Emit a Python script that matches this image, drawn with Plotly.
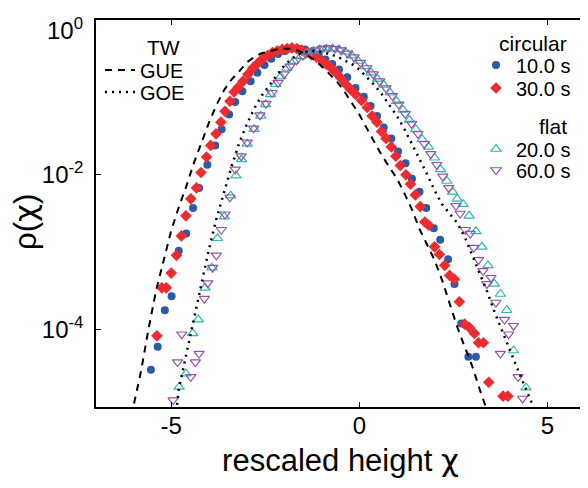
import numpy as np
import plotly.graph_objects as go

# ---------------- data (values are log10 of rho) ----------------
gue_x = [-6.05, -6.0, -5.8, -5.6, -5.4, -5.2, -5.0, -4.8, -4.6, -4.4, -4.2, -4.0, -3.8, -3.6, -3.4,
         -3.2, -3.0, -2.8, -2.6, -2.4, -2.2, -2.0, -1.8, -1.6, -1.4, -1.2, -1.0, -0.8, -0.6, -0.4,
         -0.2, 0.0, 0.2, 0.4, 0.6, 0.8, 1.0, 1.2, 1.4, 1.6, 1.8, 2.0, 2.2, 2.4, 2.6, 2.8, 3.0, 3.2,
         3.36, 3.42]
gue_log = [-5.12, -4.98, -4.53, -3.98, -3.49, -3.10, -2.72, -2.42, -2.15, -1.85, -1.58, -1.33, -1.10,
           -0.91, -0.77, -0.67, -0.55, -0.48, -0.43, -0.40, -0.38, -0.37, -0.37, -0.40, -0.45, -0.51,
           -0.60, -0.69, -0.79, -0.92, -1.07, -1.22, -1.40, -1.58, -1.75, -1.90, -2.05, -2.24, -2.45,
           -2.70, -2.90, -3.10, -3.36, -3.66, -3.96, -4.22, -4.47, -4.77, -4.98, -5.08]

goe_x = [-4.9, -4.85, -4.8, -4.6, -4.4, -4.2, -4.0, -3.8, -3.6, -3.4, -3.2, -3.0, -2.8, -2.6, -2.4,
         -2.2, -2.0, -1.8, -1.6, -1.4, -1.2, -1.0, -0.8, -0.6, -0.4, -0.2, 0.0, 0.2, 0.4, 0.6, 0.8,
         1.0, 1.2, 1.4, 1.6, 1.8, 2.0, 2.2, 2.4, 2.6, 2.8, 3.0, 3.2, 3.4, 3.6, 3.8, 4.0, 4.2, 4.4,
         4.6, 4.7]
goe_log = [-5.15, -5.0, -4.77, -4.32, -3.84, -3.40, -2.97, -2.57, -2.22, -1.90, -1.60, -1.36, -1.15,
           -0.98, -0.85, -0.72, -0.59, -0.50, -0.44, -0.41, -0.40, -0.41, -0.44, -0.47, -0.52, -0.57,
           -0.64, -0.74, -0.84, -0.96, -1.10, -1.24, -1.41, -1.60, -1.80, -1.99, -2.20, -2.38, -2.50,
           -2.62, -2.80, -3.03, -3.27, -3.51, -3.78, -4.01, -4.26, -4.50, -4.73, -4.97, -5.08]

circ10_x = [-5.54, -5.36, -5.17, -4.99, -4.80, -4.60, -4.42, -4.26, -4.04, -3.83, -3.66, -3.46, -3.30,
            -3.11, -2.89, -2.71, -2.52, -2.34, -2.16, -1.98, -1.80, -1.62, -1.44, -1.26, -1.08, -0.90,
            -0.72, -0.54, -0.32, -0.10, 0.12, 0.30, 0.47, 0.65, 0.85, 1.03, 1.23, 1.40, 1.60, 1.78,
            1.98, 2.15, 2.36, 2.53, 2.71, 2.90, 3.10]
circ10_log = [-4.52, -4.22, -3.75, -3.57, -2.98, -2.76, -2.43, -2.17, -1.87, -1.62, -1.41, -1.22, -1.06,
              -0.92, -0.79, -0.68, -0.58, -0.50, -0.44, -0.40, -0.37, -0.37, -0.38, -0.41, -0.45, -0.51,
              -0.57, -0.64, -0.74, -0.88, -0.99, -1.11, -1.24, -1.39, -1.53, -1.70, -1.85, -2.05, -2.22,
              -2.43, -2.69, -2.84, -3.09, -3.41, -3.92, -4.35, -4.35]

circ30_x = [-5.38, -5.25, -5.13, -5.00, -4.86, -4.73, -4.61, -4.48, -4.33, -4.21, -4.06, -3.95, -3.81,
            -3.68, -3.57, -3.44, -3.33, -3.22, -3.09, -2.96, -2.83, -2.70, -2.57, -2.44, -2.31, -2.18,
            -2.05, -1.92, -1.79, -1.66, -1.53, -1.40, -1.27, -1.14, -1.01, -0.88, -0.75, -0.62, -0.49,
            -0.36, -0.23, -0.10, 0.06, 0.21, 0.34, 0.47, 0.59, 0.71, 0.85, 0.97, 1.09, 1.24, 1.36,
            1.49, 1.62, 1.74, 1.84, 2.00, 2.13, 2.27, 2.40, 2.53, 2.66, 2.80, 2.92, 3.06, 3.17, 3.30,
            3.44, 3.82, 3.95]
circ30_log = [-4.08, -3.46, -3.46, -3.27, -3.04, -2.79, -2.53, -2.31, -2.17, -1.97, -1.77, -1.62, -1.47,
              -1.32, -1.18, -1.05, -0.93, -0.87, -0.79, -0.70, -0.62, -0.56, -0.50, -0.46, -0.42, -0.40,
              -0.38, -0.37, -0.36, -0.37, -0.39, -0.42, -0.45, -0.48, -0.52, -0.57, -0.62, -0.68, -0.75,
              -0.83, -0.90, -0.96, -1.04, -1.13, -1.24, -1.32, -1.44, -1.53, -1.64, -1.76, -1.88, -2.00,
              -2.12, -2.26, -2.41, -2.61, -2.65, -2.93, -3.03, -3.17, -3.30, -3.35, -3.64, -3.93, -3.97,
              -4.05, -4.17, -4.17, -4.68, -4.86, -4.86]

flat20_x = [-4.79, -4.61, -4.43, -4.28, -4.10, -3.92, -3.77, -3.59, -3.42, -3.28, -3.13, -2.98, -2.80,
            -2.62, -2.49, -2.36, -2.22, -2.09, -1.92, -1.74, -1.56, -1.39, -1.22, -1.05, -0.88, -0.71,
            -0.54, -0.37, -0.20, -0.03, 0.14, 0.31, 0.48, 0.65, 0.82, 0.99, 1.16, 1.33, 1.50, 1.67,
            1.84, 2.00, 2.16, 2.33, 2.48, 2.60, 2.76, 2.92, 3.10, 3.26, 3.42, 3.59, 3.75, 3.92, 4.10,
            4.43]
flat20_log = [-4.74, -4.57, -4.05, -3.87, -3.46, -3.20, -2.82, -2.54, -2.27, -2.01, -1.80, -1.60, -1.41,
              -1.24, -1.09, -0.96, -0.83, -0.73, -0.62, -0.53, -0.47, -0.43, -0.40, -0.38, -0.37, -0.37,
              -0.38, -0.41, -0.46, -0.53, -0.60, -0.68, -0.76, -0.84, -0.94, -1.05, -1.16, -1.29, -1.41,
              -1.54, -1.64, -1.78, -1.93, -2.08, -2.22, -2.31, -2.38, -2.53, -2.73, -2.93, -3.17, -3.41,
              -3.54, -3.75, -4.27, -4.75]

flat60_x = [-4.95, -4.83, -4.72, -4.48, -4.36, -4.26, -4.12, -4.03, -3.90, -3.80, -3.67, -3.57, -3.44,
            -3.30, -3.14, -2.98, -2.81, -2.64, -2.48, -2.32, -2.16, -2.00, -1.84, -1.67, -1.50, -1.33,
            -1.16, -0.99, -0.82, -0.65, -0.48, -0.31, -0.14, 0.03, 0.20, 0.37, 0.54, 0.71, 0.88, 1.05,
            1.22, 1.39, 1.56, 1.73, 1.90, 2.06, 2.22, 2.38, 2.57, 2.68, 2.82, 2.95, 3.04, 3.17, 3.29,
            3.39, 3.50, 3.63, 3.75, 3.86, 3.97, 4.10, 4.22, 4.34]
flat60_log = [-4.91, -4.42, -4.06, -4.61, -4.42, -4.31, -3.60, -3.40, -3.20, -3.04, -2.71, -2.51, -2.29,
              -1.93, -1.76, -1.58, -1.40, -1.23, -1.08, -0.94, -0.81, -0.70, -0.60, -0.52, -0.46, -0.42,
              -0.39, -0.37, -0.36, -0.37, -0.39, -0.43, -0.48, -0.55, -0.62, -0.70, -0.79, -0.88, -0.98,
              -1.09, -1.21, -1.34, -1.47, -1.60, -1.73, -1.87, -2.02, -2.17, -2.40, -2.50, -2.71, -2.76,
              -2.94, -3.10, -3.24, -3.41, -3.33, -3.65, -4.31, -3.87, -4.06, -3.95, -4.61, -4.89]

y_tickvals = [1, 1e-2, 1e-4]
y_ticktext = ["10<sup>0</sup>", "10<sup>-2</sup>", "10<sup>-4</sup>"]
x_tickvals = [-5, 0, 5]
x_ticktext = ["-5", "0", "5"]


def rho(logs):
    return np.power(10.0, np.array(logs))


FONT = "Liberation Sans, Arial, Helvetica, sans-serif"
BLUE = "#2a5aa8"
RED = "#ee2b2f"
CYAN = "#2fb8b0"
PURPLE = "#9452aa"
CHI = "<span style=\"font-family:'DejaVu Sans'\">χ</span>"

fig = go.Figure()

fig.add_trace(go.Scatter(x=circ10_x, y=rho(circ10_log), mode="markers", name="10.0 s",
                         legend="legend", showlegend=True,
                         marker=dict(symbol="circle", size=8, color=BLUE)))
fig.add_trace(go.Scatter(x=circ30_x, y=rho(circ30_log), mode="markers", name="30.0 s",
                         legend="legend2", showlegend=True,
                         marker=dict(symbol="diamond", size=9, color=RED)))
fig.add_trace(go.Scatter(x=flat20_x, y=rho(flat20_log), mode="markers", name="20.0 s",
                         legend="legend3", showlegend=True,
                         marker=dict(symbol="triangle-up-open", size=9, color=CYAN,
                                     line=dict(width=1.2, color=CYAN))))
fig.add_trace(go.Scatter(x=flat60_x, y=rho(flat60_log), mode="markers", name="60.0 s",
                         legend="legend4", showlegend=True,
                         marker=dict(symbol="triangle-down-open", size=9, color=PURPLE,
                                     line=dict(width=1.2, color=PURPLE))))

fig.add_trace(go.Scatter(x=gue_x, y=rho(gue_log), mode="lines", name="GUE", legend="legend5",
                         showlegend=True,
                         line=dict(color="black", width=2, dash="7px,6px")))
fig.add_trace(go.Scatter(x=goe_x, y=rho(goe_log), mode="lines", name="GOE", legend="legend6",
                         showlegend=True,
                         line=dict(color="black", width=2.5, dash="2px,5px")))

axis_common = dict(showline=True, linecolor="black", linewidth=1.5, mirror="ticks",
                   ticks="inside", ticklen=5, tickcolor="black", tickwidth=1.2,
                   showgrid=False, zeroline=False, automargin=False,
                   tickfont=dict(family=FONT, size=24, color="black"))

fig.update_xaxes(range=[-7, 6], tickvals=x_tickvals, ticktext=x_ticktext,
                 ticklabelstandoff=-4,
                 title=dict(text="rescaled height " + CHI,
                            font=dict(family=FONT, size=31, color="black"), standoff=12),
                 **axis_common)
# the top label (10^0) is drawn as an annotation, slightly below its tick like the original
fig.update_yaxes(type="log", range=[-5, 0], tickvals=y_tickvals,
                 ticktext=[""] + y_ticktext[1:],
                 ticklabelstandoff=6, ticklabeloverflow="allow",
                 **axis_common)


def item_legend(x, y_center):
    return dict(x=x, xanchor="left", y=y_center, yanchor="middle", bgcolor="rgba(0,0,0,0)",
                borderwidth=0, font=dict(family=FONT, size=20, color="black"))


def py(pixel_y):
    # convert a pixel row of the screenshot into plot-area paper fraction
    return (407 - pixel_y) / 387


def px(pixel_x):
    return (pixel_x - 96) / 489


header_font = dict(family=FONT, size=21, color="black")

fig.update_layout(
    width=588, height=488,
    # page body has an 8 px default margin: shift so the plot area sits at x 96..585, y 20..407
    margin=dict(l=88, r=11, t=12, b=89),
    paper_bgcolor="white", plot_bgcolor="white",
    showlegend=True,
    font=dict(family=FONT, color="black"),
    legend=item_legend(px(476), py(65)),
    legend2=item_legend(px(476), py(88)),
    legend3=item_legend(px(476), py(149)),
    legend4=item_legend(px(476), py(170)),
    legend5=item_legend(px(100), py(70)),
    legend6=item_legend(px(100), py(92)),
    annotations=[
        dict(text=y_ticktext[0], x=px(85), y=py(29), xref="paper", yref="paper",
             xanchor="right", yanchor="middle", showarrow=False,
             font=dict(family=FONT, size=24, color="black")),
        dict(text="circular", x=px(569), y=py(43), xref="paper", yref="paper", xanchor="right",
             yanchor="middle", showarrow=False, font=header_font),
        dict(text="flat", x=px(569), y=py(127), xref="paper", yref="paper", xanchor="right",
             yanchor="middle", showarrow=False, font=header_font),
        dict(text="TW", x=px(182), y=py(48), xref="paper", yref="paper", xanchor="right",
             yanchor="middle", showarrow=False, font=header_font),
        dict(text="ρ(" + CHI + ")", x=px(25), y=py(222), xref="paper", yref="paper",
             xanchor="center", yanchor="middle", textangle=-90, showarrow=False,
             font=dict(family=FONT, size=31, color="black")),
    ],
)

fig.write_html("out.html")
